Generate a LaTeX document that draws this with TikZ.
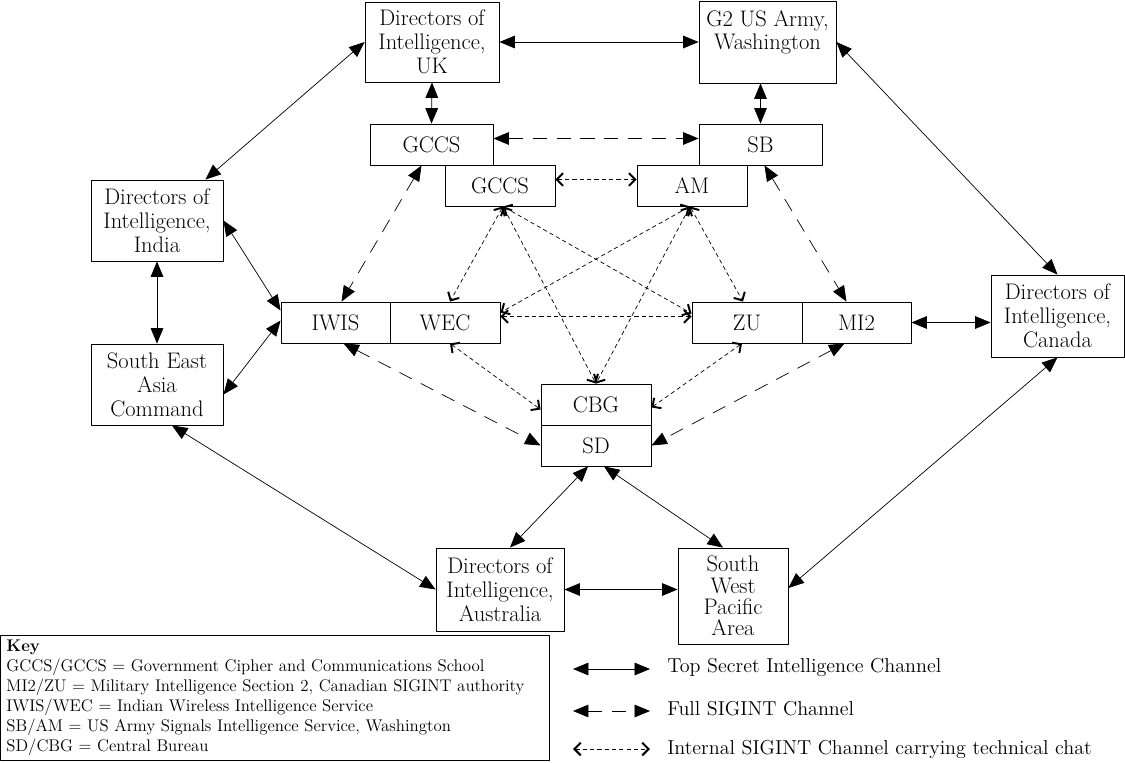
\documentclass[tikz,border=0pt]{standalone}
\usetikzlibrary{arrows.meta,calc}
\begin{document}
\begin{tikzpicture}[x=0.025cm,y=-0.025cm,line join=round,
	box/.style={draw,line width=0.6pt,inner sep=0pt,align=center,font=\fontsize{16}{17}\selectfont},
	small/.style={box,minimum width=2.75cm,minimum height=1.025cm},
	big/.style={box,minimum width=3.3cm,minimum height=2.025cm},
	topsecret/.style={>={Triangle[length=11pt,width=9pt]},<->,line width=0.5pt},
	fullsig/.style={>={Triangle[length=11pt,width=9pt]},<->,line width=0.5pt,dash pattern=on 10pt off 7pt},
	internal/.style={>={Straight Barb[length=4.5pt,width=9pt,line width=1.4pt]},<->,line width=0.5pt,dash pattern=on 3pt off 2.2pt},
	legend/.style={anchor=west,inner sep=0pt,font=\fontsize{14.3}{16}\selectfont}]
	\useasboundingbox (0,0) rectangle (1125,763);
	% top secret level
	\node[big,minimum width=3.35cm,minimum height=2cm] (uk) at (432,42) {Directors of\\Intelligence,\\UK};
	\node[big,minimum width=3.425cm,minimum height=2.05cm] (gtwo) at (767.5,42) {G2 US Army,\\Washington\\~};
	\node[big] (india) at (157,220.5) {Directors of\\Intelligence,\\India};
	\node[big] (seac) at (157,384.5) {South East\\Asia\\Command};
	\node[big,minimum width=3.325cm,minimum height=2.05cm] (canada) at (1057.5,316) {Directors of\\Intelligence,\\Canada};
	\node[big,minimum width=3.2cm,minimum height=2.075cm] (aus) at (500,589.5) {Directors of\\Intelligence,\\Australia};
	\node[big,minimum width=2.75cm,minimum height=2.4cm,font=\fontsize{16}{15.2}\selectfont] (swpa) at (733,596) {South\\West\\Pacific\\Area};
	% SIGINT agencies
	\node[small,minimum width=3.075cm] (gccsa) at (431.5,144.5) {GCCS};
	\node[small,minimum width=3.075cm] (sb) at (760.5,144.5) {SB};
	\node[small] (gccsb) at (500,185.5) {GCCS};
	\node[small] (am) at (692,185.5) {AM};
	\node[small,minimum width=2.725cm] (iwis) at (335.5,322.5) {IWIS};
	\node[small] (wec) at (445,322.5) {WEC};
	\node[small] (zu) at (747,322.5) {ZU};
	\node[small,minimum width=2.725cm] (mitwo) at (856.5,322.5) {MI2};
	\node[small] (cbg) at (596,404.5) {CBG};
	\node[small] (sd) at (596,445.5) {SD};

	\draw[topsecret] (uk.east) -- (gtwo.west);
	\draw[topsecret] (uk.south) -- (gccsa.north);
	\draw[topsecret] (sb.north |- gtwo.south) -- (sb.north);
	\draw[topsecret] (uk.west) -- ($(india.north east)+(-18,0)$);
	\draw[topsecret] (gtwo.east) -- (canada.north);
	\draw[topsecret] (india.south) -- (seac.north);
	\draw[topsecret] (india.east) -- ($(iwis.west)+(0,-12)$);
	\draw[topsecret] ($(seac.east)+(0,10)$) -- ($(iwis.west)+(0,-2)$);
	\draw[topsecret] (mitwo.east) -- (mitwo.east -| canada.west);
	\draw[topsecret] ($(seac.south)+(15,0)$) -- (aus.west);
	\draw[topsecret] (canada.south) -- ($(swpa.east)+(0,-8)$);
	\draw[topsecret] ($(sd.south)+(-8,0)$) -- ($(aus.north)+(10,0)$);
	\draw[topsecret] ($(sd.south)+(8,0)$) -- ($(swpa.north)+(-10,0)$);
	\draw[topsecret] (aus.east) -- (aus.east -| swpa.west);

	\draw[fullsig] ($(gccsa.east)+(0,-6)$) -- ($(sb.west)+(0,-6)$);
	\draw[fullsig] ($(gccsa.south)+(-10,0)$) -- ($(iwis.north)+(6,0)$);
	\draw[fullsig] ($(sb.south)+(4,0)$) -- ($(mitwo.north)+(-10,0)$);
	\draw[fullsig] ($(iwis.south)+(8,0)$) -- (sd.west);
	\draw[fullsig] ($(mitwo.south)+(-12,0)$) -- (sd.east);

	\draw[internal] ($(gccsb.east)+(0,-6)$) -- ($(am.west)+(0,-6)$);
	\draw[internal] ($(gccsb.south)+(3,0)$) -- ($(wec.north)+(5,0)$);
	\draw[internal] ($(gccsb.south)+(3,0)$) -- ($(zu.west)+(0,-9)$);
	\draw[internal] ($(gccsb.south)+(3,0)$) -- (cbg.north);
	\draw[internal] ($(am.south)+(-2,0)$) -- ($(wec.east)+(0,-10)$);
	\draw[internal] ($(am.south)+(-2,0)$) -- ($(zu.north)+(-4,0)$);
	\draw[internal] ($(am.south)+(-2,0)$) -- (cbg.north);
	\draw[internal] ($(wec.east)+(0,-6)$) -- ($(zu.west)+(0,-6)$);
	\draw[internal] ($(wec.south)+(5,0)$) -- ($(cbg.west)+(0,5)$);
	\draw[internal] ($(zu.south)+(-5,0)$) -- ($(cbg.east)+(0,3)$);

	% key and legend
	\node[draw,line width=0.6pt,minimum width=13.725cm,minimum height=3.1cm,text width=13.4cm,inner xsep=0.16cm,align=left,font=\fontsize{12}{14.2}\selectfont] (key) at (274.5,698)
	{\textbf{Key}\\
	GCCS/GCCS = Government Cipher and Communications School\\
	MI2/ZU = Military Intelligence Section 2, Canadian SIGINT authority\\
	IWIS/WEC = Indian Wireless Intelligence Service\\
	SB/AM = US Army Signals Intelligence Service, Washington\\
	SD/CBG = Central Bureau};
	\coordinate (lsa) at (573,669); \coordinate (lsb) at (650,669);
	\coordinate (lfa) at (573,711); \coordinate (lfb) at (650,711);
	\coordinate (lia) at (573,749); \coordinate (lib) at (650,749);
	\draw[topsecret] (lsa) -- (lsb);
	\draw[fullsig] (lfa) -- (lfb);
	\draw[internal] (lia) -- (lib);
	\node[legend] (lst) at (667,667) {Top Secret Intelligence Channel};
	\node[legend] (lft) at (667,709) {Full SIGINT Channel};
	\node[legend] (lit) at (667,749) {Internal SIGINT Channel carrying technical chat};
\end{tikzpicture}
\end{document}
